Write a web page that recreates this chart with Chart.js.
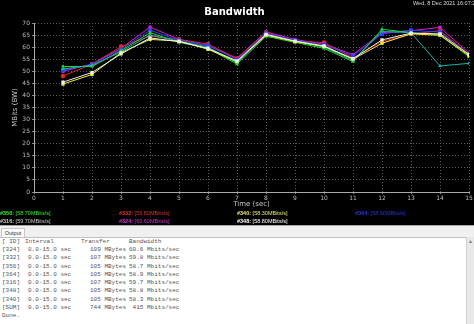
<!DOCTYPE html>
<html lang="en">
<head>
<meta charset="UTF-8">
<title>Bandwidth</title>
<style>
  html, body { margin: 0; padding: 0; width: 474px; height: 324px; overflow: hidden; background: #000; font-family: "Liberation Sans", Arial, sans-serif; }
  #chart { position: absolute; left: 0; top: 0; }
  #stamp { position: absolute; left: 413px; top: 0; font-size: 5.5px; line-height: 7px; color: #ddd; white-space: nowrap; }
  .leg { position: absolute; font-size: 5.5px; line-height: 7px; white-space: nowrap; }
  #panel { position: absolute; left: 0; top: 225px; width: 474px; height: 99px; background: #f0f0f0; border-top: 1px solid #a8a8a8; box-sizing: border-box; }
  #tab { position: absolute; left: 1px; top: 2px; width: 22px; height: 9px; background: #fbfbfb; border: 1px solid #c8c8c8; border-bottom: none; font-size: 5.5px; line-height: 9px; color: #333; text-align: center; }
  #out { position: absolute; left: 0; top: 11px; width: 466px; height: 88px; background: #fff; border-top: 1px solid #c0c0c0; box-sizing: border-box; }
  #scroll { position: absolute; left: 466px; top: 11px; width: 8px; height: 88px; background: #e8e8e8; border-left: 1px solid #d0d0d0; box-sizing: border-box; font-size: 5px; color: #777; text-align: center; line-height: 8px; }
  .row { position: absolute; left: 0; height: 8.22px; width: 460px; font-family: "Liberation Mono", "DejaVu Sans Mono", monospace; font-size: 6px; line-height: 8.22px; color: #555; }
  .row span { position: absolute; top: 0; white-space: pre; }
</style>
</head>
<body>
<canvas id="chart" width="474" height="225"></canvas>
<div id="stamp">Wed, 8 Dec 2021 16:07:28</div>
<div id="legend"></div>
<div id="panel">
  <div id="tab">Output</div>
  <div id="out"></div>
  <div id="scroll">&#9650;</div>
</div>
<script src="https://cdn.jsdelivr.net/npm/chart.js"></script>
<script>
// time points (sec)
const times = [1, 2, 3, 4, 5, 6, 7, 8, 9, 10, 11, 12, 13, 14, 15];

// per-stream bandwidth (MBits/s)
const s356 = [52, 52, 58.5, 66, 62, 59.5, 53, 64.5, 62, 59.5, 54, 67.4, 66, 65, 56];
const s316 = [51, 52.5, 58, 65, 62.5, 60, 53.5, 65, 62.5, 60, 54.5, 66.5, 66, 52.2, 53.3];
const s332 = [48, 53, 60.2, 64.5, 63.2, 61.3, 55.2, 66, 62.5, 61.9, 55.5, 62.4, 65.4, 66.8, 57];
const s324 = [50, 53, 59.5, 68.3, 63.2, 60.5, 55.5, 66.3, 63.2, 61.2, 56.9, 66, 66.8, 68.2, 57.5];
const s340 = [44.7, 48.7, 57.7, 63.2, 62.5, 59.1, 54, 65, 62.3, 60.3, 55, 61.6, 65.5, 64.9, 56.5];
const s348 = [45.5, 49.5, 57.2, 63.8, 62.3, 59.5, 54.3, 65.3, 62.5, 60.5, 55.2, 63, 65.8, 65.5, 57];
const s364 = [50.5, 52.8, 59, 67, 62.8, 60.8, 54.8, 65.7, 62.8, 61, 56.3, 65.5, 67, 66.2, 56.8];

const streamIds = ['356', '316', '332', '324', '340', '348', '364'];
const streamData = [s356, s316, s332, s324, s340, s348, s364];
const avgRates = ['58.70', '59.70', '59.80', '60.60', '58.30', '58.80', '58.90'];

// styles
const lineColors = ['#22e022', '#19b3a8', '#e02828', '#d51fd5', '#f0f020', '#f0f0f0', '#3a3aff'];
const legendColors = ['#33ee33', '#c8c8c8', '#e03030', '#d030d0', '#e8e870', '#ffffff', '#3030e0'];
const pointStyles = ['triangle', 'triangle', 'circle', 'rect', 'rect', 'rect', 'circle'];
const legendCols = [0, 0, 1, 1, 2, 2, 3];
const legendRows = [0, 1, 0, 1, 0, 1, 0];
const drawOrder = [5, 4, 1, 0, 6, 2, 3]; // bottom to top

// summary table
const sumIds = ['324', '332', '356', '364', '316', '348', '340', 'SUM'];
const sumTransfer = ['109', '107', '105', '105', '107', '105', '105', '744'];
const sumBandwidth = ['60.6', '59.8', '58.7', '58.9', '59.7', '58.8', '58.3', ' 415'];

// legend (HTML)
const legendEl = document.getElementById('legend');
const colX = [0, 119, 237, 355];
const rowY = [210, 217.5];
streamIds.forEach((id, i) => {
    const d = document.createElement('div');
    d.className = 'leg';
    d.style.left = colX[legendCols[i]] + 'px';
    d.style.top = rowY[legendRows[i]] + 'px';
    d.style.color = legendColors[i];
    d.innerHTML = '<b>#' + id + ':</b> [' + avgRates[i] + 'MBits/s]';
    legendEl.appendChild(d);
});

// output text
const out = document.getElementById('out');
function addRow(r, cells, xs) {
    const row = document.createElement('div');
    row.className = 'row';
    row.style.top = (r * 8.22) + 'px';
    cells.forEach((c, k) => {
        const s = document.createElement('span');
        s.style.left = xs[k] + 'px';
        s.textContent = c;
        row.appendChild(s);
    });
    out.appendChild(row);
}
addRow(0, ['[ ID]', 'Interval', 'Transfer', 'Bandwidth'], [2, 25, 81, 129]);
sumIds.forEach((id, i) => {
    addRow(i + 1, ['[' + id + ']', '0.0-15.0 sec', sumTransfer[i] + ' MBytes', sumBandwidth[i] + ' Mbits/sec'], [2, 28, 90, 129]);
});
addRow(sumIds.length + 1, ['Done.'], [2]);

// chart
const datasets = drawOrder.map(i => ({
    label: '#' + streamIds[i],
    data: times.map((t, k) => ({ x: t, y: streamData[i][k] })),
    borderColor: lineColors[i],
    backgroundColor: lineColors[i],
    borderWidth: 1,
    pointStyle: pointStyles[i],
    pointRadius: 2.3,
    pointBorderWidth: 0,
    fill: false,
    tension: 0
}));

const tickFont = { family: 'DejaVu Sans', size: 6 };
const gridColor = '#5e5e5e';

new Chart(document.getElementById('chart').getContext('2d'), {
    type: 'line',
    data: { datasets: datasets },
    options: {
        responsive: false,
        animation: false,
        layout: { padding: { left: 0, right: 5, top: 0, bottom: 0 } },
        scales: {
            x: {
                type: 'linear',
                min: 0,
                max: 15,
                ticks: { stepSize: 1, color: '#bdbdbd', font: tickFont, padding: 1, maxRotation: 0 },
                grid: { color: gridColor, tickLength: 2, tickColor: '#888' },
                border: { color: '#aaa', dash: [1, 2] },
                title: { display: true, text: 'Time (sec)', color: '#c8c8c8', font: { family: 'DejaVu Sans', size: 7 }, padding: { top: 0, bottom: 16.8 } },
                afterFit: s => { s.height = 33; }
            },
            y: {
                min: 0,
                max: 70,
                ticks: { stepSize: 5, color: '#bdbdbd', font: tickFont, padding: 2 },
                grid: { color: gridColor, tickLength: 2, tickColor: '#888' },
                border: { color: '#aaa', dash: [1, 2] },
                title: { display: true, text: 'MBits (BW)', color: '#c8c8c8', font: { family: 'DejaVu Sans', size: 7 }, padding: { top: 10.8, bottom: 0 } },
                afterFit: s => { s.width = 34; }
            }
        },
        plugins: {
            legend: { display: false },
            tooltip: { enabled: false },
            title: {
                display: true,
                text: 'Bandwidth',
                color: '#ffffff',
                font: { family: 'DejaVu Sans', size: 10, weight: 'bold' },
                padding: { top: 6, bottom: 5 }
            }
        }
    }
});
</script>
</body>
</html>
